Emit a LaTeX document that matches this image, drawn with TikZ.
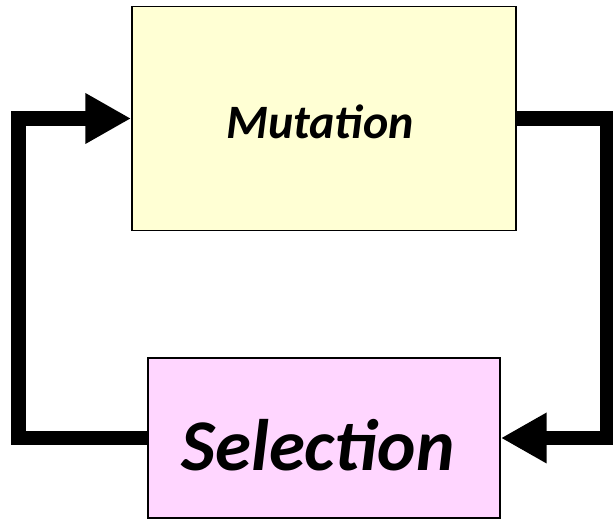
\documentclass[tikz,border=0pt]{standalone}
\usepackage{fontspec}
\setmainfont{Carlito}
\usepackage{tikz}
\usetikzlibrary{calc}
\usetikzlibrary{positioning}
\usetikzlibrary{arrows.meta}

\definecolor{mutfill}{HTML}{FFFFD4}
\definecolor{selfill}{HTML}{FFD6FF}

\begin{document}
\begin{tikzpicture}[
    x=0.02cm,y=-0.02cm,
    stage/.style={draw,line width=1.1pt,inner sep=0pt},
    cycle/.style={line width=8.5pt,line join=miter,-{Triangle[length=26pt,width=27pt]}}
    ]
    \useasboundingbox (0,0) rectangle (613,519);
    % 1) the two stages
    \node[stage,fill=mutfill,minimum width=7.68cm,minimum height=4.48cm] (mut) at (324,118.5) {};
    \node[font=\fontsize{27.3}{32}\bfseries\itshape] (mutlab) at (320,122) {Mutation};
    \node[stage,fill=selfill,minimum width=7.04cm,minimum height=3.2cm] (sel) at (324,438) {};
    \node[font=\fontsize{41.5}{48}\bfseries\itshape] (sellab) at (318,445) {Selection};
    % 2) the loop
    \draw[cycle] (sel.west) -- ++(-128.5,0) |- (mut.west);
    \draw[cycle] (mut.east) -- ++(91,0) |- (sel.east);
\end{tikzpicture}
\end{document}
